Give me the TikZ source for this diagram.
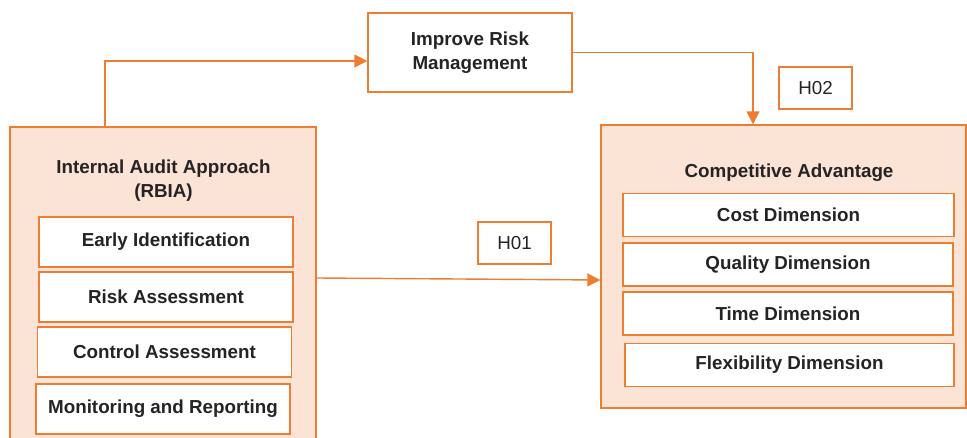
\documentclass[tikz,border=0pt]{standalone}
\usepackage{fontspec}
\setmainfont{Liberation Sans}
\usepackage{xcolor}
\usetikzlibrary{positioning,arrows.meta}
\definecolor{boxorange}{HTML}{ED7D31}
\definecolor{boxpeach}{HTML}{FBE3D6}
\definecolor{textgray}{HTML}{262324}

\begin{document}
\begin{tikzpicture}[x=0.02cm,y=-0.02cm,
    outer/.style={draw=boxorange,fill=boxpeach,line width=0.8pt},
    inner/.style={draw=boxorange,fill=white,line width=0.8pt,align=center,text=textgray,
      font=\fontsize{10.7}{13.4}\selectfont\bfseries},
    hbox/.style={draw=boxorange,fill=white,line width=0.8pt,text=textgray,
      minimum width=1.46cm,minimum height=0.84cm,font=\fontsize{10.7}{13}\selectfont},
    title/.style={align=center,text=textgray,font=\fontsize{10.7}{13.6}\selectfont\bfseries},
    link/.style={draw=boxorange,line width=0.8pt,-{Triangle[length=0.26cm,width=0.26cm]}}]
  \useasboundingbox (0,0) rectangle (967,438);
  \clip (0,0) rectangle (967,438);

  \node[outer,minimum width=6.12cm,minimum height=6.4cm] (iaa) at (163,287) {}; %左の枠
  \node[title] (iaat) at (163.5,181) {Internal Audit Approach\\(RBIA)};
  \node[inner,minimum width=5.08cm,minimum height=1cm] (early) at (166,242) {Early Identification};
  \node[inner,minimum width=5.08cm,minimum height=1cm] (risk) at (166,297) {Risk Assessment};
  \node[inner,minimum width=5.08cm,minimum height=1cm] (control) at (164.5,352) {Control Assessment};
  \node[inner,minimum width=5.08cm,minimum height=1cm] (monitor) at (163,409) {Monitoring and Reporting};

  \node[outer,minimum width=7.3cm,minimum height=5.66cm] (ca) at (783.5,266.5) {}; %右の枠
  \node[title] (cat) at (789,173) {Competitive Advantage};
  \node[inner,minimum width=6.62cm,minimum height=0.86cm] (cost) at (788.5,215) {Cost Dimension};
  \node[inner,minimum width=6.6cm,minimum height=0.86cm] (quality) at (788,264.5) {Quality Dimension};
  \node[inner,minimum width=6.6cm,minimum height=0.86cm] (time) at (788,313.5) {Time Dimension};
  \node[inner,minimum width=6.58cm,minimum height=0.86cm] (flex) at (789.5,365) {Flexibility Dimension};

  \node[inner,minimum width=4.08cm,minimum height=1.58cm] (irm) at (470,52.5) {Improve Risk\\Management}; %上の箱

  \node[hbox] (h02) at (815.5,88) {H02};
  \node[hbox] (h01) at (514.5,243) {H01};

  \draw[link] ([xshift=-1.16cm]iaa.north) |- ([yshift=-0.17cm]irm.west); %左上の矢印
  \draw[link] (irm.east) -| ([xshift=-0.61cm]ca.north); %右上の矢印
  \draw[link] ([yshift=0.18cm]iaa.east) -- ([yshift=-0.27cm]ca.west); %中央の矢印
\end{tikzpicture}
\end{document}
